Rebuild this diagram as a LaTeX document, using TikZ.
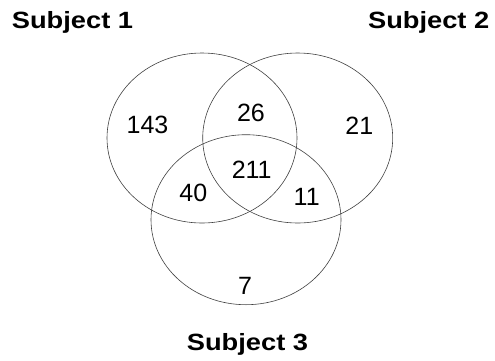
\documentclass[tikz,border=0pt]{standalone}
\usepackage{fontspec}
\setmainfont{Liberation Sans}
\begin{document}
\begin{tikzpicture}[x=1pt,y=-1pt,
  setcircle/.style={draw=black!75,line width=0.6pt},
  title/.style={font=\fontsize{23.5}{27}\selectfont\bfseries,inner sep=0pt,anchor=base},
  num/.style={font=\fontsize{25}{29}\selectfont,inner sep=0pt,anchor=center}]
\useasboundingbox (0,0) rectangle (495,360);
\draw[setcircle] (202,138) ellipse [x radius=95,y radius=85];
\draw[setcircle] (297.7,138) ellipse [x radius=95,y radius=85];
\draw[setcircle] (246,219.7) ellipse [x radius=95,y radius=85];
\node[title] (t1) at (72.5,28.3) {\scalebox{1.16}[1]{Subject 1}};
\node[title] (t2) at (428.7,28.3) {\scalebox{1.16}[1]{Subject 2}};
\node[title] (t3) at (247.5,350) {\scalebox{1.16}[1]{Subject 3}};
\node[num] (n143) at (147.5,124.5) {143};
\node[num] (n26) at (251,112.7) {26};
\node[num] (n21) at (359.3,126) {21};
\node[num] (n211) at (251.7,170) {211};
\node[num] (n40) at (193.3,192.7) {40};
\node[num] (n11) at (306.7,196.7) {11};
\node[num] (n7) at (245,286) {7};
\end{tikzpicture}
\end{document}
